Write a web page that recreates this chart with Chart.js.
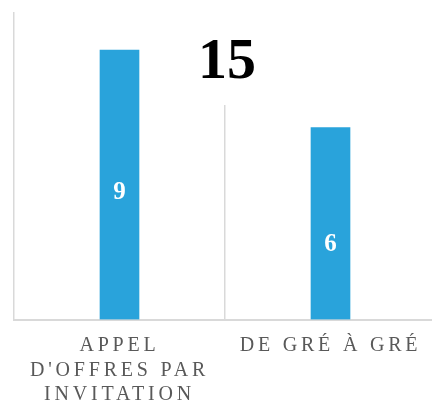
<!DOCTYPE html>
<html>
<head>
<meta charset="utf-8">
<script src="https://cdn.jsdelivr.net/npm/chart.js@4/dist/chart.umd.min.js"></script>
<style>
  html, body { margin: 0; padding: 0; background: #fff; overflow: hidden; }
  #wrap { width: 438px; height: 401px; position: relative; }
</style>
</head>
<body>
<div id="wrap"><canvas id="procChart"></canvas></div>
<script>
const categories = [["APPEL", "D'OFFRES PAR", "INVITATION"], "DE GRÉ À GRÉ"];
const counts = [9, 6];
const total = counts.reduce((sum, v) => sum + v, 0);

// where the value label sits inside each bar (0 = top, 1 = base)
const labelSpots = [0.53, 0.61];
const yFloor = -1.44;

const barLabels = {
    id: "barLabels",
    afterDatasetsDraw(chart) {
        const { ctx } = chart;
        const meta = chart.getDatasetMeta(0);
        ctx.save();
        ctx.letterSpacing = "0px";
        ctx.fillStyle = "#ffffff";
        ctx.font = "bold 25px 'Liberation Serif', 'DejaVu Serif', serif";
        ctx.textAlign = "center";
        ctx.textBaseline = "middle";
        meta.data.forEach((bar, i) => {
            const y = bar.y + (bar.base - bar.y) * labelSpots[i];
            ctx.fillText(String(counts[i]), bar.x, y);
        });
        ctx.restore();
    }
};

const bigTotal = {
    id: "bigTotal",
    beforeDraw(chart) {
        chart.ctx.letterSpacing = "3.8px";
    },
    afterDraw(chart) {
        const { ctx, chartArea } = chart;
        const cx = (chartArea.left + chartArea.right) / 2 + 2;
        ctx.save();
        ctx.letterSpacing = "0px";
        ctx.fillStyle = "#ffffff";
        ctx.fillRect(cx - 40, chartArea.top - 2, 80, 95);
        ctx.fillStyle = "#000000";
        ctx.font = "bold 58px 'Liberation Serif', 'DejaVu Serif', serif";
        ctx.textAlign = "center";
        ctx.textBaseline = "alphabetic";
        ctx.fillText(String(total), cx, 78);
        ctx.restore();
    }
};

new Chart(document.getElementById("procChart"), {
    type: "bar",
    data: {
        labels: categories,
        datasets: [{
            data: counts,
            base: yFloor,
            backgroundColor: "#29a3db",
            barThickness: 39
        }]
    },
    options: {
        responsive: true,
        maintainAspectRatio: false,
        animation: false,
        layout: { padding: { left: 14, right: 2, top: 12, bottom: -20 } },
        plugins: {
            legend: { display: false },
            tooltip: { enabled: false }
        },
        scales: {
            x: {
                grid: { offset: true, color: "#d9d9d9", lineWidth: 1.5, drawTicks: false },
                border: { color: "#d9d9d9", width: 2 },
                ticks: {
                    color: "#595959",
                    padding: 14,
                    maxRotation: 0,
                    autoSkip: false,
                    font: { family: "'Liberation Serif', 'DejaVu Serif', serif", size: 20, lineHeight: 1.225 }
                }
            },
            y: {
                display: false,
                min: yFloor,
                max: 10.48
            }
        }
    },
    plugins: [barLabels, bigTotal]
});
</script>
</body>
</html>
